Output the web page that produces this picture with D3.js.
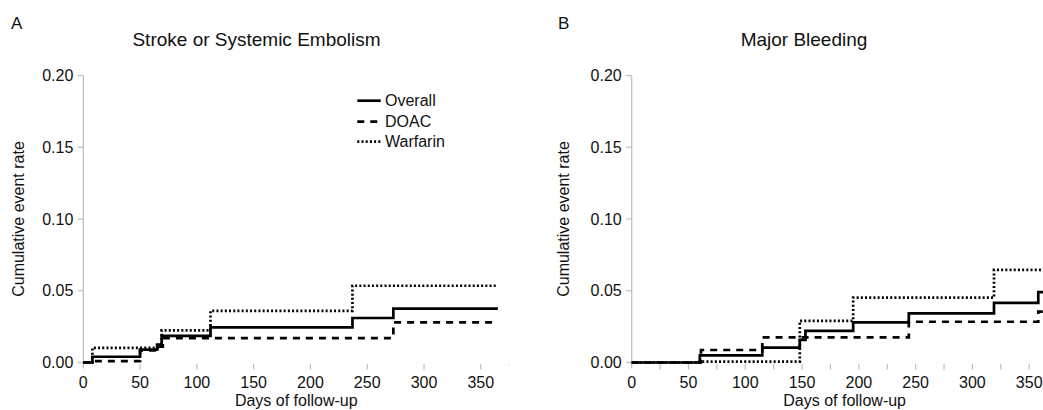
<!DOCTYPE html>
<html><head><meta charset="utf-8">
<script src="https://cdn.jsdelivr.net/npm/d3@7/dist/d3.min.js"></script>
<style>
body{margin:0;background:#fff;}
text{font-family:"Liberation Sans",Arial,Helvetica,sans-serif;fill:#111;}
</style></head>
<body><svg id="c" width="1043" height="410"></svg>
<script>
// ---- data ----
const panelLetters = ["A", "B"];
const panelTitles = ["Stroke or Systemic Embolism", "Major Bleeding"];
const seriesNames = ["Overall", "DOAC", "Warfarin"];
const yTicks = [0, 0.05, 0.10, 0.15, 0.20];
const xTicksMajor = [0, 50, 100, 150, 200, 250, 300, 350];
const xTicksMinorB = [25, 75, 125, 175, 225, 275, 325, 375];
const yLabel = "Cumulative event rate";
const xLabel = "Days of follow-up";

// Panel A: step points [day, rate]
const strokeOverall  = [[0,0],[8,0.004],[50,0.009],[65,0.0125],[69,0.0185],[112,0.0245],[237,0.031],[273,0.0375],[365,0.0375]];
const strokeDOAC     = [[0,0],[8,0.001],[50,0.0085],[66,0.011],[70,0.017],[273,0.028],[365,0.028]];
const strokeWarfarin = [[0,0],[8,0.0102],[67,0.013],[69,0.0224],[112,0.036],[237,0.0535],[365,0.0535]];
// Panel B
const bleedOverall  = [[0,0],[60,0.005],[115,0.0103],[148,0.0157],[153,0.022],[195,0.028],[244,0.0343],[319,0.0415],[358,0.049],[365,0.049]];
const bleedDOAC     = [[0,0],[61,0.0087],[115,0.0175],[244,0.0284],[358,0.0355],[365,0.0355]];
const bleedWarfarin = [[0,0],[60,0.0006],[148,0.029],[195,0.0452],[319,0.0645],[365,0.0645]];

const panelData = [[strokeOverall, strokeDOAC, strokeWarfarin],[bleedOverall, bleedDOAC, bleedWarfarin]];

// ---- layout ----
const svg = d3.select("#c");
const yTop = 75.5, yBot = 362.5;
const pxPerDay = 1.1357;
const origins = [83.3, 631.7];
const titleX = [256.5, 804];
const letterX = [11, 558];
const yTitleX = [24, 569];
const dashes = [null, "7,6", "2,2.2"];
const axisGrey = "#bdbdbd";
const lw = 2.7;

panelLetters.forEach((L, p) => {
  const x0 = origins[p];
  const x = d3.scaleLinear().domain([0, 375]).range([x0, x0 + 375 * pxPerDay]);
  const y = d3.scaleLinear().domain([0, 0.2]).range([yBot, yTop]);
  const g = svg.append("g");

  g.append("text").attr("x", letterX[p]).attr("y", 29).attr("font-size", 17).text(L);
  g.append("text").attr("x", titleX[p]).attr("y", 46).attr("font-size", 19)
    .attr("text-anchor", "middle").text(panelTitles[p]);

  // y axis
  g.append("line").attr("x1", x0).attr("x2", x0).attr("y1", yTop).attr("y2", yBot + 6)
    .attr("stroke", axisGrey).attr("stroke-width", 1.2);
  yTicks.forEach(t => {
    g.append("line").attr("x1", x0 - 5.5).attr("x2", x0).attr("y1", y(t)).attr("y2", y(t))
      .attr("stroke", axisGrey).attr("stroke-width", 1.2);
    g.append("text").attr("x", x0 - 10).attr("y", y(t)).attr("dy", "0.35em")
      .attr("text-anchor", "end").attr("font-size", 16).text(d3.format(".2f")(t));
  });
  g.append("text").attr("transform", `translate(${yTitleX[p]},${(yTop + yBot) / 2}) rotate(-90)`)
    .attr("text-anchor", "middle").attr("font-size", 16).text(yLabel);

  // x axis ticks (no baseline)
  const tickY1 = 364, tickY2 = 369.5;
  xTicksMajor.forEach(t => {
    if (t > 0) g.append("line").attr("x1", x(t)).attr("x2", x(t)).attr("y1", tickY1).attr("y2", tickY2)
      .attr("stroke", axisGrey).attr("stroke-width", 1.2);
    g.append("text").attr("x", x(t)).attr("y", 387.5).attr("text-anchor", "middle")
      .attr("font-size", 16).text(t);
  });
  if (p === 1) {
    xTicksMinorB.forEach(t => {
      g.append("line").attr("x1", x(t)).attr("x2", x(t)).attr("y1", tickY1).attr("y2", tickY2)
        .attr("stroke", axisGrey).attr("stroke-width", 1.2);
    });
  } else {
    g.append("line").attr("x1", x(375)).attr("x2", x(375)).attr("y1", tickY1).attr("y2", tickY1 + 2)
      .attr("stroke", "#ddd").attr("stroke-width", 1);
  }
  g.append("text").attr("x", (x(0) + x(375)) / 2).attr("y", 406).attr("text-anchor", "middle")
    .attr("font-size", 16).text(xLabel);

  // step lines
  const line = d3.line().x(d => x(d[0])).y(d => y(d[1])).curve(d3.curveStepAfter);
  panelData[p].forEach((s, i) => {
    g.append("path").datum(s).attr("d", line).attr("fill", "none").attr("stroke", "#000")
      .attr("stroke-width", lw).attr("stroke-dasharray", dashes[i]);
  });

  // legend (panel A only)
  if (p === 0) {
    const rows = [100.7, 121.7, 141.7];
    seriesNames.forEach((n, i) => {
      g.append("line").attr("x1", 357.3).attr("x2", 380.7).attr("y1", rows[i]).attr("y2", rows[i])
        .attr("stroke", "#000").attr("stroke-width", lw).attr("stroke-dasharray", dashes[i]);
      g.append("text").attr("x", 385).attr("y", rows[i]).attr("dy", "0.35em")
        .attr("font-size", 16).text(n);
    });
  }
});
</script></body></html>
